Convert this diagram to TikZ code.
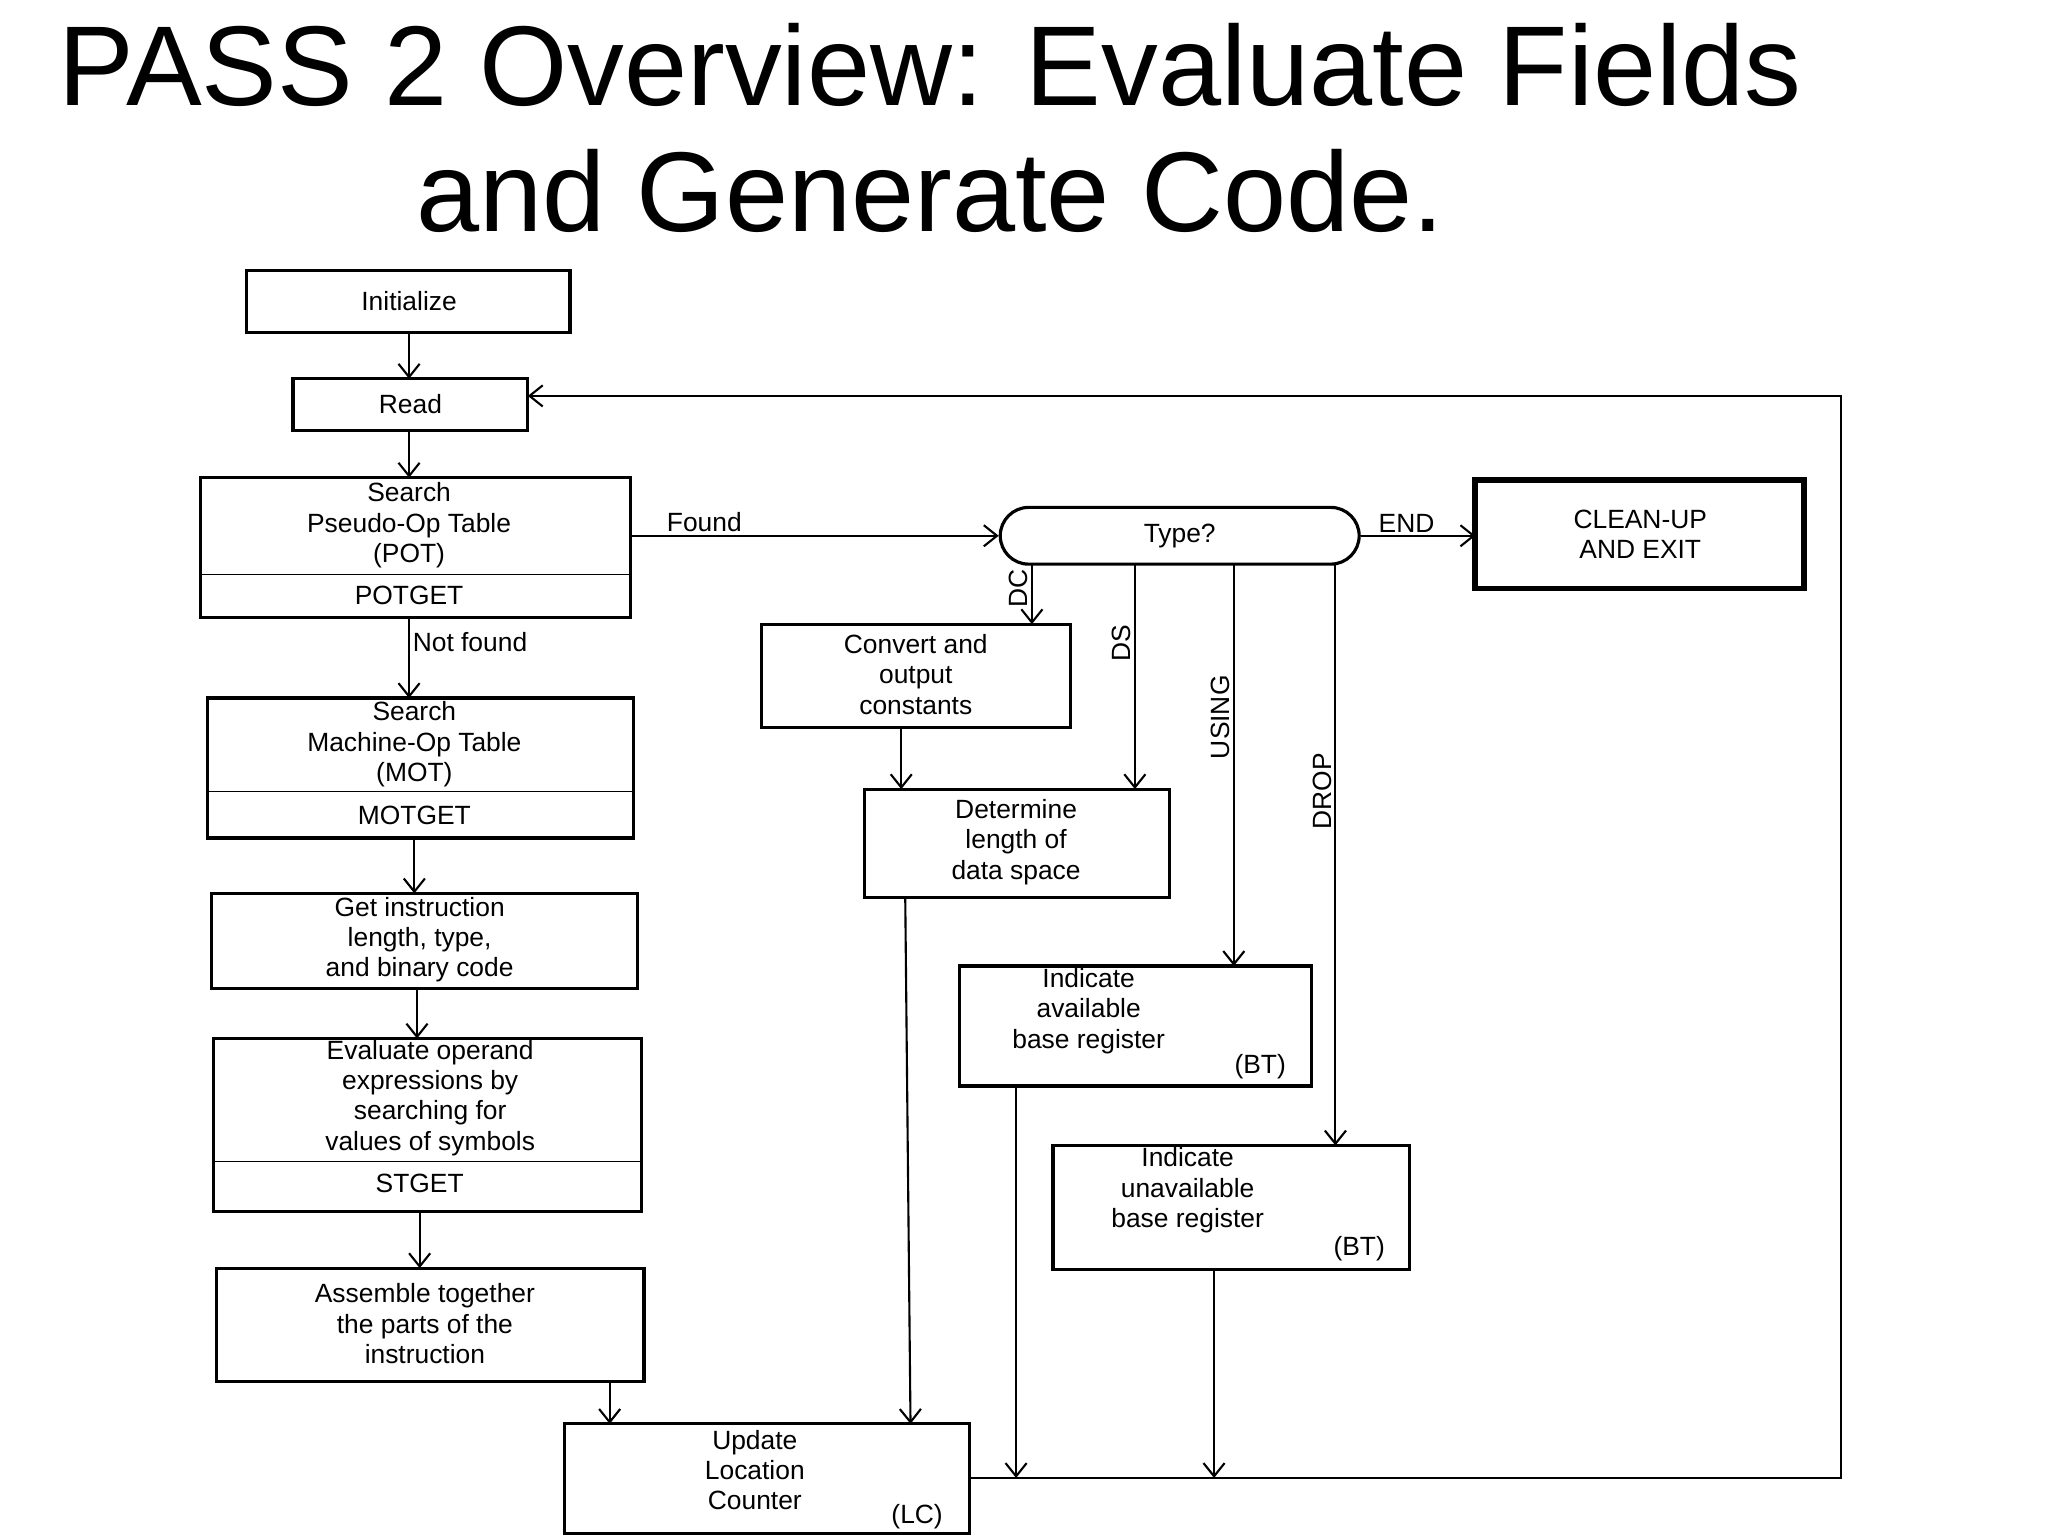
\documentclass[tikz,border=0pt]{standalone}
\usepackage{fontspec}
\setmainfont{Liberation Sans}
\usetikzlibrary{arrows.meta,shapes.misc}
\begin{document}
\begin{tikzpicture}[x=0.5pt,y=-0.5pt,
  box/.style={draw,line width=1.2pt,inner sep=0pt},
  txt/.style={font=\fontsize{10}{11.5}\selectfont,align=center,inner sep=0pt},
  arr/.style={-{Straight Barb[length=5pt,width=8pt]},line width=0.8pt},
  lab/.style={font=\fontsize{10}{12}\selectfont,inner sep=1pt}]
\useasboundingbox (0,0) rectangle (1552,1164);
\node[font=\fontsize{43}{48}\selectfont,align=center] (title) at (705,97) {PASS 2 Overview: Evaluate Fields\\and Generate Code.};
% boxes
\draw[box] (187,205) rectangle (432,252); \node[txt] (init) at (310,228) {Initialize};
\coordinate (initb) at (310,252);
\draw[box] (222,287) rectangle (400,326); \node[txt] (read) at (311,306) {Read};
\coordinate (readt) at (310,287); \coordinate (readb) at (310,326); \coordinate (readr) at (400,300);
\draw[box] (152,362) rectangle (478,468); \draw (152,435) -- (478,435);
\node[txt] (pot) at (310,398) {Search\\Pseudo-Op Table\\(POT)}; \node[txt] at (310,451) {POTGET};
\coordinate (pott) at (310,362); \coordinate (potb) at (310,468); \coordinate (potr) at (478,406);
\draw[box] (157,529) rectangle (480,635); \draw (157,600) -- (480,600);
\node[txt] (mot) at (314,564) {Search\\Machine-Op Table\\(MOT)}; \node[txt] at (314,618) {MOTGET};
\coordinate (mott) at (310,529); \coordinate (motb) at (314,635);
\draw[box] (160,677) rectangle (483,749);
\node[txt] (get) at (318,712) {Get instruction\\length, type,\\and binary code};
\coordinate (gett) at (314,677); \coordinate (getb) at (316,749);
\draw[box] (162,787) rectangle (486,918); \draw (162,880) -- (486,880);
\node[txt] (ev) at (326,832) {Evaluate operand\\expressions by\\searching for\\values of symbols}; \node[txt] at (318,897) {STGET};
\coordinate (evt) at (316,787); \coordinate (evb) at (318,918);
\draw[box] (164,961) rectangle (488,1047);
\node[txt] (asm) at (322,1003) {Assemble together\\the parts of the\\instruction};
\coordinate (asmt) at (318,961); \coordinate (asmb) at (462,1047);
\draw[box] (428,1079) rectangle (735,1162);
\node[txt] (lc) at (572,1114) {Update\\Location\\Counter}; \node[txt] at (695,1149) {(LC)};
\coordinate (lct1) at (462,1079); \coordinate (lct2) at (690,1079); \coordinate (lcr) at (735,1120);
\node[draw,line width=1.2pt,rounded rectangle,minimum width=136pt,minimum height=21.5pt,txt] (type) at (894,406) {Type?};
\draw[line width=2.2pt] (1118,364) rectangle (1367,446);
\node[txt] (clean) at (1243,405) {CLEAN-UP\\AND EXIT};
\coordinate (cleanl) at (1118,406);
\draw[box] (577,473) rectangle (811,551);
\node[txt] (conv) at (694,511) {Convert and\\output\\constants};
\draw[box] (655,598) rectangle (886,680);
\node[txt] (det) at (770,638) {Determine\\length of\\data space};
\draw[box] (727,732) rectangle (994,823);
\node[txt] (ava) at (825,766) {Indicate\\available\\base register}; \node[txt] at (955,808) {(BT)};
\draw[box] (798,868) rectangle (1068,962);
\node[txt] (una) at (900,902) {Indicate\\unavailable\\base register}; \node[txt] at (1030,946) {(BT)};
% connectors
\draw[arr] (initb) -- (readt);
\draw[arr] (readb) -- (pott);
\draw[arr] (potb) -- node[lab,right,pos=0.3] {Not found} (mott);
\draw[arr] (motb) -- (gett);
\draw[arr] (getb) -- (evt);
\draw[arr] (evb) -- (asmt);
\draw[arr] (asmb) -- (lct1);
\draw[arr] (potr) -- node[lab,above,pos=0.2] {Found} (type.west);
\draw[arr] (type.east) -- node[lab,above,pos=0.4] {END} (cleanl);
\draw[arr] (782,428) -- node[lab,rotate=90,anchor=south,pos=0.4] {DC} (782,473);
\draw[arr] (860,428) -- node[lab,rotate=90,anchor=south,pos=0.35] {DS} (860,598);
\draw[arr] (935,428) -- node[lab,rotate=90,anchor=south,pos=0.38] {USING} (935,732);
\draw[arr] (1012,428) -- node[lab,rotate=90,anchor=south,pos=0.39] {DROP} (1012,868);
\draw[arr] (683,551) -- (683,598);
\draw[arr] (686,680) -- (lct2);
\draw[arr] (770,823) -- (770,1120);
\draw[arr] (920,962) -- (920,1120);
\draw[arr] (lcr) -- (1395,1120) -- (1395,300) -- (readr);
\end{tikzpicture}
\end{document}
